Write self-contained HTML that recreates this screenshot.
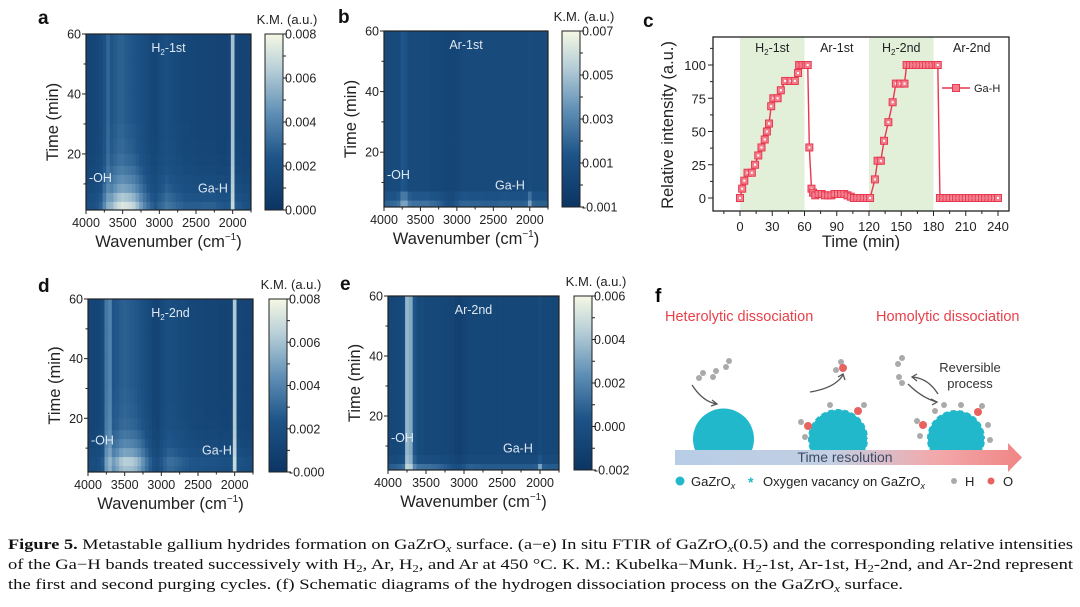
<!DOCTYPE html>
<html><head><meta charset="utf-8"><style>
html,body{margin:0;padding:0;background:#fff}
svg{display:block;font-family:"Liberation Sans",sans-serif}
</style></head><body>
<svg id="fig" width="1080" height="607" viewBox="0 0 1080 607" xmlns="http://www.w3.org/2000/svg">
<defs>
<linearGradient id="cmap" x1="0" y1="1" x2="0" y2="0">
<stop offset="0" stop-color="#0b3563"/><stop offset="0.3" stop-color="#1e5488"/><stop offset="0.55" stop-color="#5f8fb5"/><stop offset="0.8" stop-color="#b8cfd8"/><stop offset="1" stop-color="#f5f8e4"/>
</linearGradient>
<linearGradient id="tgrad" x1="0" y1="0" x2="1" y2="0">
<stop offset="0" stop-color="#b7cde6"/><stop offset="0.45" stop-color="#c3cfe2"/><stop offset="0.75" stop-color="#f2a9ab"/><stop offset="1" stop-color="#f08585"/>
</linearGradient>
<clipPath id="above"><rect x="650" y="350" width="420" height="100"/></clipPath>
</defs>
<g id="heatmaps"></g>
<g id="panelc"></g>
<g id="panelf">
<text x="655" y="302" font-size="19" font-weight="bold">f</text>
<text x="665" y="321" font-size="14.5" fill="#e8404a">Heterolytic dissociation</text>
<text x="876" y="321" font-size="14.5" fill="#e8404a">Homolytic dissociation</text>
<g clip-path="url(#above)">
<g><circle cx="723.5" cy="439" r="30.5" fill="#22b8cc"/></g>
<g><circle cx="838" cy="439" r="30" fill="#22b8cc" stroke="#fff" stroke-width="2" stroke-dasharray="3 5"/></g>
<g><circle cx="956" cy="439" r="29" fill="#22b8cc" stroke="#fff" stroke-width="2" stroke-dasharray="3 5"/></g>
</g>
<g>
<polygon points="675,450 1008,450 1008,443 1022,457.5 1008,472 1008,465 675,465" fill="url(#tgrad)"/>
</g>
<text x="845" y="462" font-size="14" fill="#3b4a66" text-anchor="middle">Time resolution</text>
<g fill="#aaa">
<circle cx="699" cy="378" r="3"/><circle cx="703" cy="373" r="3"/><circle cx="713" cy="377" r="3"/><circle cx="716" cy="371" r="3"/>
<circle cx="729" cy="361" r="3"/><circle cx="726" cy="367" r="3"/>
<circle cx="841" cy="362" r="3"/><circle cx="836" cy="370" r="3"/>
<circle cx="898" cy="364" r="3"/><circle cx="902" cy="358" r="3"/><circle cx="899" cy="377" r="3"/><circle cx="902" cy="383" r="3"/>
<circle cx="830" cy="405" r="3"/><circle cx="864" cy="405" r="3"/><circle cx="801" cy="422" r="3"/><circle cx="805" cy="437" r="3"/>
<circle cx="944" cy="405" r="3"/><circle cx="961" cy="405" r="3"/><circle cx="982" cy="406" r="3"/><circle cx="917" cy="421" r="3"/><circle cx="920" cy="436" r="3"/><circle cx="988" cy="425" r="3"/><circle cx="990" cy="440" r="3"/><circle cx="935" cy="411" r="3"/>
</g>
<g fill="#e8625f">
<circle cx="843" cy="368" r="4"/><circle cx="858" cy="411" r="4"/><circle cx="808" cy="426" r="4"/><circle cx="978" cy="412" r="4"/><circle cx="923" cy="425" r="4"/>
</g>
<g fill="none" stroke="#555" stroke-width="1.3">
<path d="M692,385 Q703,402 717,404"/><path d="M712,400 L717,404 L711,406"/>
<path d="M810,392 Q835,388 843,375"/><path d="M838,377 L843,374 L845,380"/>
<path d="M908,384 Q922,398 937,402"/><path d="M931,399 L937,402 L932,405"/>
<path d="M938,394 Q928,378 912,377"/><path d="M917,374 L912,377 L917,381"/>
</g>
<text x="970" y="372" font-size="13" fill="#333" text-anchor="middle">Reversible</text>
<text x="970" y="388" font-size="13" fill="#333" text-anchor="middle">process</text>
<g>
<circle cx="680" cy="481" r="4.5" fill="#22b8cc"/>
<text x="691" y="486" font-size="13" fill="#222">GaZrO<tspan font-size="9" dy="3" font-style="italic">x</tspan></text>
<text x="748" y="487" font-size="14" fill="#22b8cc" font-weight="bold">*</text>
<text x="763" y="486" font-size="13" fill="#222">Oxygen vacancy on GaZrO<tspan font-size="9" dy="3" font-style="italic">x</tspan></text>
<circle cx="954" cy="481" r="3" fill="#aaa"/>
<text x="965" y="486" font-size="13" fill="#222">H</text>
<circle cx="991" cy="481" r="3.5" fill="#e8625f"/>
<text x="1003" y="486" font-size="13" fill="#222">O</text>
</g>
</g>
<g font-family="Liberation Serif, serif" font-size="14.5" fill="#111">
<text x="8" y="549" textLength="1065" lengthAdjust="spacingAndGlyphs"><tspan font-weight="bold">Figure 5.</tspan> Metastable gallium hydrides formation on GaZrO<tspan font-style="italic" font-size="10" dy="3">x</tspan><tspan dy="-3"> surface. (a−e) In situ FTIR of GaZrO</tspan><tspan font-style="italic" font-size="10" dy="3">x</tspan><tspan dy="-3">(0.5) and the corresponding relative intensities</tspan></text>
<text x="8" y="569" textLength="1065" lengthAdjust="spacingAndGlyphs">of the Ga−H bands treated successively with H<tspan font-size="10" dy="3">2</tspan><tspan dy="-3">, Ar, H</tspan><tspan font-size="10" dy="3">2</tspan><tspan dy="-3">, and Ar at 450 °C. K. M.: Kubelka−Munk. H</tspan><tspan font-size="10" dy="3">2</tspan><tspan dy="-3">-1st, Ar-1st, H</tspan><tspan font-size="10" dy="3">2</tspan><tspan dy="-3">-2nd, and Ar-2nd represent</tspan></text>
<text x="8" y="589" textLength="895" lengthAdjust="spacingAndGlyphs">the first and second purging cycles. (f) Schematic diagrams of the hydrogen dissociation process on the GaZrO<tspan font-style="italic" font-size="10" dy="3">x</tspan><tspan dy="-3"> surface.</tspan></text>
</g>
</svg>
<script>
// ---------- Heatmap data (K.M. x 1e-3), columns: 4000 -> 1750 step 50 ----------
const wavenumbers = [4000,3950,3900,3850,3800,3750,3700,3650,3600,3550,3500,3450,3400,3350,3300,3250,3200,3150,3100,3050,3000,2950,2900,2850,2800,2750,2700,2650,2600,2550,2500,2450,2400,2350,2300,2250,2200,2150,2100,2050,2000,1950,1900,1850,1800,1750];
const timeEdges = [60,50,40,30,25,20,16,13,10,7,4,1.3];
const aSteady = [1.2,1.2,1.3,1.4,1.6,2.2,3.0,2.4,2.6,2.8,2.8,2.6,2.5,2.4,2.2,2.0,1.8,1.6,1.4,1.3,1.6,1.8,2.0,1.8,1.7,1.6,1.5,1.4,1.4,1.3,1.3,1.2,1.2,1.2,1.2,1.2,1.1,1.1,1.1,1.2,6.0,1.3,1.2,1.1,1.1,1.1];
const aEarly = [0.8,0.8,0.8,1.0,1.2,2.0,2.4,3.2,3.8,4.2,4.5,4.6,4.5,4.2,3.6,2.9,2.2,1.7,1.4,1.2,1.3,1.4,1.6,1.6,1.5,1.4,1.4,1.3,1.3,1.4,1.4,1.5,1.6,1.6,1.6,1.6,1.5,1.4,1.3,1.3,0.8,1.3,1.3,1.1,1.0,0.9];
const aWeight = [0,0,0,0.03,0.06,0.12,0.22,0.35,0.5,0.75,1];
const bSteady = [0.6,0.6,0.6,0.6,0.7,1.4,1.2,0.7,0.6,0.6,0.6,0.6,0.6,0.5,0.5,0.5,0.4,0.3,0.2,0.2,0.3,0.5,0.6,0.6,0.6,0.6,0.6,0.6,0.6,0.6,0.6,0.6,0.6,0.6,0.6,0.6,0.6,0.6,0.6,0.6,0.8,0.6,0.6,0.6,0.6,0.6];
const bEarly = [1.2,1.3,1.4,1.5,1.7,2.6,2.8,2.0,1.8,1.8,1.8,1.8,1.8,1.7,1.6,1.4,1.2,0.9,0.8,0.9,1.2,1.4,1.4,1.4,1.3,1.3,1.3,1.2,1.2,1.2,1.2,1.2,1.3,1.3,1.3,1.2,1.2,1.2,1.2,1.3,3.2,1.3,1.2,1.2,1.2,1.2];
const bWeight = [0,0,0,0,0,0,0,0,0,0.5,1];
const dSteady = [1.2,1.2,1.2,1.3,1.6,3.6,4.0,2.4,2.5,2.7,2.8,2.7,2.6,2.5,2.3,2.1,1.8,1.5,1.2,1.1,1.5,1.8,2.0,1.9,1.8,1.7,1.6,1.5,1.4,1.4,1.3,1.3,1.2,1.2,1.2,1.2,1.1,1.1,1.1,1.2,6.2,1.3,1.2,1.1,1.1,1.1];
const dEarly = [0.8,0.8,0.8,1.0,1.2,1.6,2.0,3.0,3.6,4.2,4.5,4.6,4.6,4.3,3.8,3.0,2.2,1.6,1.2,1.0,1.2,1.4,1.6,1.7,1.6,1.5,1.4,1.4,1.3,1.3,1.3,1.4,1.4,1.4,1.4,1.3,1.3,1.2,1.2,1.2,0.8,1.2,1.2,1.1,1.0,0.9];
const dWeight = [0,0,0,0.02,0.04,0.08,0.18,0.3,0.5,0.8,0.7];
const eSteady = [-0.6,-0.6,-0.6,-0.5,-0.3,3.6,3.2,0.4,-0.3,-0.4,-0.5,-0.5,-0.5,-0.5,-0.6,-0.6,-0.7,-0.8,-1.0,-1.1,-0.9,-0.7,-0.6,-0.6,-0.6,-0.6,-0.6,-0.6,-0.6,-0.6,-0.6,-0.6,-0.6,-0.6,-0.6,-0.6,-0.6,-0.6,-0.6,-0.6,-0.3,-0.6,-0.6,-0.6,-0.6,-0.6];
const eEarly = [1.2,1.3,1.4,1.5,1.6,1.0,1.2,1.8,1.8,1.8,1.8,1.8,1.7,1.6,1.5,1.3,1.2,1.0,0.9,1.0,1.3,1.4,1.4,1.3,1.3,1.2,1.2,1.2,1.2,1.2,1.2,1.2,1.2,1.2,1.2,1.2,1.2,1.2,1.2,1.3,3.4,1.3,1.2,1.2,1.2,1.2];
const eWeight = [0,0,0,0,0,0,0,0,0,0.2,1];
const cbTicksA = ["0.008","0.006","0.004","0.002","0.000"];
const cbTicksB = ["0.007","0.005","0.003","0.001","-0.001"];
const cbTicksD = ["0.008","0.006","0.004","0.002","-0.000"];
const cbTicksE = ["0.006","0.004","0.002","0.000","-0.002"];
const wnTicks = [4000,3500,3000,2500,2000];
const timeTicks = [20,40,60];

// ---------- Panel c data ----------
const cTimes = [0,2,4,7,11,14,17,20,23,25,27,29,31,35,38,42,47,51,54,55,58,61,63,64.5,66.5,68,70,73,76,79,82,85,88,91,94,97,100,103,106,109,112,115,118,121,125.5,128,131,134,138,142,145,149,153,155,158,161,164,167,170,173,176,179,182,184,186,189,192,195,198,201,204,207,210,213,216,219,222,225,228,231,234,237,240];
const cValues = [0,7,13,19,19,25,32,38,44,50,56,69,75,75,81,88,88,88,94,100,100,100,100,38,7,4,2,3,3,2,2,2,3,3,3,3,2,1,0,0,0,0,0,0,14,28,28,43,57,72,86,86,86,100,100,100,100,100,100,100,100,100,100,100,0,0,0,0,0,0,0,0,0,0,0,0,0,0,0,0,0,0,0];
const cXTicks = [0,30,60,90,120,150,180,210,240];
const cYTicks = [0,25,50,75,100];
const cPhases = ["H2-1st","Ar-1st","H2-2nd","Ar-2nd"];
const cPhaseStart = [0,60,120,180];

const NS="http://www.w3.org/2000/svg";
function el(tag,attrs,parent,txt){const e=document.createElementNS(NS,tag);for(const k in attrs)e.setAttribute(k,attrs[k]);if(txt!==undefined)e.textContent=txt;parent.appendChild(e);return e;}
const stops=[[0,[11,53,99]],[0.3,[30,84,136]],[0.55,[95,143,181]],[0.8,[184,207,216]],[1,[245,248,228]]];
function cmap(t){t=Math.max(0,Math.min(1,t));for(let i=1;i<stops.length;i++){if(t<=stops[i][0]){const a=stops[i-1],b=stops[i];const f=(t-a[0])/(b[0]-a[0]);const c=a[1].map((v,k)=>Math.round(v+(b[1][k]-v)*f));return `rgb(${c[0]},${c[1]},${c[2]})`;}}return "rgb(245,248,228)";}

function heatPanel(p){
  const H=document.getElementById('heatmaps');
  const g=el('g',{},H);
  
  
  const X=w=>p.x0+(4000-w)/(4000-1750)*(p.x1-p.x0);
  const Y=t=>p.y1-(t-p.tmin)/(60-p.tmin)*(p.y1-p.y0);
  const step=(p.x1-p.x0)/(wavenumbers.length-1);
  const cells=el('g',{},g);
  
  
  for(let j=0;j<timeEdges.length-1;j++){
    const ya=Y(timeEdges[j]),yb=Y(Math.max(timeEdges[j+1],p.tmin));
    for(let i=0;i<wavenumbers.length;i++){
      const v=p.steady[i]+p.early[i]*p.weight[j];
      const cx=X(wavenumbers[i]);
      const xa=Math.max(p.x0,cx-step/2),xb=Math.min(p.x1,cx+step/2);
      const r=el('rect',{x:xa,y:ya,width:xb-xa+0.4,height:yb-ya+0.4,fill:cmap((v-p.vmin)/(p.vmax-p.vmin))},cells);
      
      
    }
  }
  el('rect',{x:p.x0,y:p.y0,width:p.x1-p.x0,height:p.y1-p.y0,fill:'none',stroke:'#222','stroke-width':1.2},g);
  wnTicks.forEach(w=>{const x=X(w);el('line',{x1:x,y1:p.y1,x2:x,y2:p.y1+4,stroke:'#222'},g);
    const t=el('text',{x:x,y:p.y1+17,'font-size':12.5,'text-anchor':'middle',fill:'#222'},g,String(w));});
  [3750,3250,2750,2250,1750].forEach(w=>{const x=X(w);el('line',{x1:x,y1:p.y1,x2:x,y2:p.y1+2.5,stroke:'#222'},g);});
  timeTicks.forEach(tv=>{const y=Y(tv);el('line',{x1:p.x0-4,y1:y,x2:p.x0,y2:y,stroke:'#222'},g);
    const t=el('text',{x:p.x0-5,y:y+4.5,'font-size':12.5,'text-anchor':'end',fill:'#222'},g,String(tv));});
  [10,30,50].forEach(tv=>{const y=Y(tv);el('line',{x1:p.x0-2.5,y1:y,x2:p.x0,y2:y,stroke:'#222'},g);});
  const xt=el('text',{x:(p.x0+p.x1)/2,y:p.y1+37,'font-size':16.5,'text-anchor':'middle',fill:'#222'},g);
  
  xt.innerHTML='Wavenumber (cm<tspan font-size="10" dy="-7">−1</tspan><tspan dy="7">)</tspan>';
  const yt=el('text',{x:0,y:0,'font-size':16.5,'text-anchor':'middle',fill:'#222',transform:`translate(${p.x0-28},${(p.y0+p.y1)/2}) rotate(-90)`},g,'Time (min)');
  
  const lb=el('text',{x:p.lx,y:p.ly,'font-size':19,'font-weight':'bold',fill:'#111'},g,p.id);
  
  const l1=el('text',{x:p.x0+3,y:p.y0+(p.y1-p.y0)*0.84,'font-size':12.5,fill:'#dfe8f0'},g,'-OH');
  const l2=el('text',{x:p.gx,y:p.y0+(p.y1-p.y0)*0.9,'font-size':12.5,fill:'#dfe8f0'},g,'Ga-H');
  const l3=el('text',{x:(p.x0+p.x1)/2,y:p.y0+18,'font-size':12.5,'text-anchor':'middle',fill:'#dfe8f0'},g);
  
  l3.innerHTML=p.title;
  const cb=el('g',{},g);
  el('rect',{x:p.cx,y:p.y0,width:18,height:p.y1-p.y0,fill:'url(#cmap)',stroke:'#222','stroke-width':1},cb);
  p.cb.forEach((s,k)=>{const y=p.y0+k*(p.y1-p.y0)/4;el('line',{x1:p.cx+18,y1:y,x2:p.cx+22,y2:y,stroke:'#222'},cb);
    const t=el('text',{x:p.cx+20,y:y+4.5,'font-size':12.5,fill:'#222'},cb,s);
    if(k<4){const ym=y+(p.y1-p.y0)/8;el('line',{x1:p.cx+18,y1:ym,x2:p.cx+21,y2:ym,stroke:'#222'},cb);}});
  const kt=el('text',{x:p.cx+22,y:p.y0-10,'font-size':13,'text-anchor':'middle',fill:'#222'},cb,'K.M. (a.u.)');
  
}
heatPanel({id:'a',x0:86,x1:251,y0:34,y1:210,tmin:1.3,cx:265,lx:38,ly:24,gx:198,steady:aSteady,early:aEarly,weight:aWeight,vmin:0,vmax:8,cb:cbTicksA,title:'H<tspan font-size="8" dy="3">2</tspan><tspan dy="-3">-1st</tspan>'});
heatPanel({id:'b',x0:384,x1:548,y0:31,y1:207,tmin:1.9,cx:562,lx:338,ly:23,gx:495,steady:bSteady,early:bEarly,weight:bWeight,vmin:-1,vmax:7,cb:cbTicksB,title:'Ar-1st'});
heatPanel({id:'d',x0:88,x1:253,y0:299,y1:472,tmin:2,cx:269,lx:38,ly:292,gx:202,steady:dSteady,early:dEarly,weight:dWeight,vmin:0,vmax:8,cb:cbTicksD,title:'H<tspan font-size="8" dy="3">2</tspan><tspan dy="-3">-2nd</tspan>'});
heatPanel({id:'e',x0:388,x1:559,y0:296,y1:470,tmin:2,cx:574,lx:340,ly:290,gx:503,steady:eSteady,early:eEarly,weight:eWeight,vmin:-2,vmax:6,cb:cbTicksE,title:'Ar-2nd'});

(function(){
  const G=document.getElementById('panelc');
  const x0=713,x1=1009,y0=37,y1=211;
  const X=t=>740+t*(998-740)/240;
  const Y=v=>198-v*(198-65)/100;
  const lb=el('text',{x:643,y:27,'font-size':19,'font-weight':'bold',fill:'#111'},G,'c');
  
  [0,2].forEach(k=>{const r=el('rect',{x:X(cPhaseStart[k]),y:y0,width:X(cPhaseStart[k]+60)-X(cPhaseStart[k]),height:y1-y0,fill:'#e2f0da'},G);
    });
  cPhases.forEach((s,k)=>{const t=el('text',{x:X(cPhaseStart[k]+30)+(k==3?6:0),y:52,'font-size':12.5,'text-anchor':'middle',fill:'#222'},G);
    
    t.innerHTML=s.startsWith('H2')?'H<tspan font-size="8" dy="3">2</tspan><tspan dy="-3">'+s.slice(2)+'</tspan>':s;});
  el('rect',{x:x0,y:y0,width:x1-x0,height:y1-y0,fill:'none',stroke:'#222','stroke-width':1.3},G);
  cXTicks.forEach(t=>{const x=X(t);el('line',{x1:x,y1:y1,x2:x,y2:y1+5,stroke:'#222'},G);
    const tx=el('text',{x:x,y:y1+20,'font-size':13,'text-anchor':'middle',fill:'#222'},G,String(t));});
  cXTicks.forEach(t=>{if(t<240){const x=X(t+15);el('line',{x1:x,y1:y1,x2:x,y2:y1+3,stroke:'#222'},G);}});
  [-15].forEach(t=>{const x=X(t);el('line',{x1:x,y1:y1,x2:x,y2:y1+3,stroke:'#222'},G);});
  cYTicks.forEach(v=>{const y=Y(v);el('line',{x1:x0-5,y1:y,x2:x0,y2:y,stroke:'#222'},G);
    const tx=el('text',{x:x0-7,y:y+5,'font-size':13,'text-anchor':'end',fill:'#222'},G,String(v));});
  cYTicks.forEach(v=>{const y=Y(v+12.5);if(y>y0)el('line',{x1:x0-3,y1:y,x2:x0,y2:y,stroke:'#222'},G);});
  const xt=el('text',{x:861,y:247,'font-size':16.5,'text-anchor':'middle',fill:'#222'},G,'Time (min)');
  
  const yt=el('text',{x:0,y:0,'font-size':16.5,'text-anchor':'middle',fill:'#222',transform:'translate(673,125) rotate(-90)'},G,'Relative intensity (a.u.)');
  
  const pts=cTimes.map((t,i)=>X(t)+','+Y(cValues[i])).join(' ');
  const ln=el('polyline',{points:pts,fill:'none',stroke:'#e8384f','stroke-width':1.4},G);
  
  cTimes.forEach((t,i)=>{const m=el('rect',{x:X(t)-3.5,y:Y(cValues[i])-3.5,width:7,height:7,fill:'#f27d8c',stroke:'#e8384f','stroke-width':1},G);
    
    el('rect',{x:X(t)-1,y:Y(cValues[i])-1,width:2,height:2,fill:'#fff'},G);});
  const lg=el('g',{},G);
  el('line',{x1:942,y1:88,x2:970,y2:88,stroke:'#e8384f','stroke-width':1.4},lg);
  el('rect',{x:952.5,y:84.5,width:7,height:7,fill:'#f27d8c',stroke:'#e8384f'},lg);
  el('text',{x:974,y:92,'font-size':11,fill:'#222'},lg,'Ga-H');
})();
</script>
</body></html>
